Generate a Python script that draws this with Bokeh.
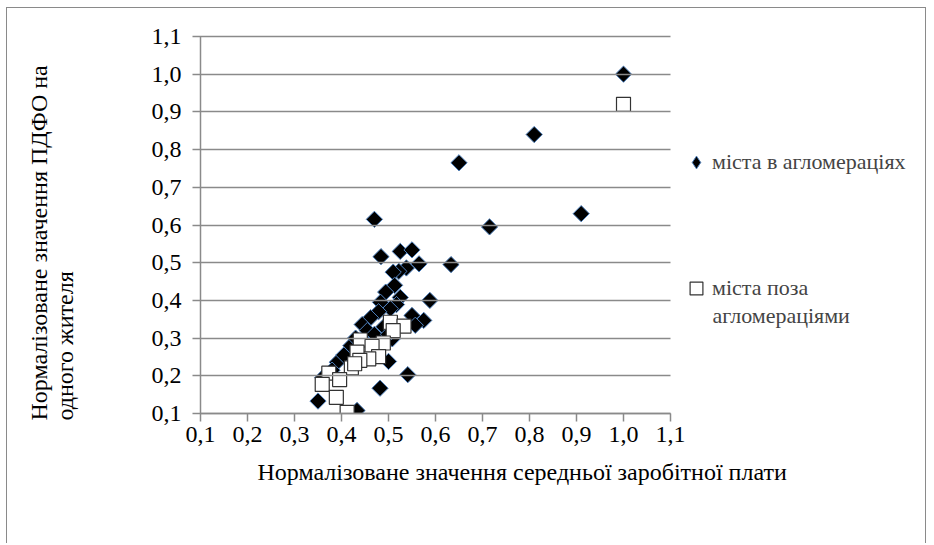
import math
from bokeh.plotting import figure
from bokeh.models import (FixedTicker, CustomJSTickFormatter, Legend,
                          LegendItem, Range1d, Title, Label)
from bokeh.embed import file_html
from bokeh.resources import INLINE

# ---- data -------------------------------------------------------------
agl_x = [1.0, 0.81, 0.65, 0.715, 0.91, 0.47, 0.633, 0.484, 0.525, 0.55,
         0.565, 0.538, 0.522, 0.51, 0.513, 0.494, 0.525, 0.588, 0.483, 0.517,
         0.504, 0.479, 0.462, 0.444, 0.55, 0.575, 0.557, 0.508, 0.5, 0.541,
         0.482, 0.433, 0.35, 0.391, 0.36, 0.38, 0.42, 0.43, 0.455, 0.47,
         0.49, 0.5, 0.405]
agl_y = [1.0, 0.84, 0.765, 0.595, 0.63, 0.615, 0.495, 0.516, 0.53, 0.534,
         0.497, 0.486, 0.477, 0.475, 0.44, 0.422, 0.408, 0.4, 0.395, 0.389,
         0.378, 0.37, 0.354, 0.336, 0.36, 0.347, 0.334, 0.298, 0.238, 0.203,
         0.167, 0.108, 0.133, 0.236, 0.195, 0.215, 0.28, 0.3, 0.32, 0.31,
         0.33, 0.31, 0.255]

out_x = [1.0, 0.504, 0.533, 0.51, 0.44, 0.489, 0.465, 0.479, 0.458, 0.433,
         0.439, 0.421, 0.373, 0.396, 0.359, 0.389, 0.412, 0.428]
out_y = [0.92, 0.342, 0.332, 0.32, 0.295, 0.287, 0.278, 0.251, 0.245, 0.263,
         0.241, 0.221, 0.207, 0.19, 0.177, 0.143, 0.103, 0.232]

x_ticks = [0.1, 0.2, 0.3, 0.4, 0.5, 0.6, 0.7, 0.8, 0.9, 1.0, 1.1]
y_ticks = [0.1, 0.2, 0.3, 0.4, 0.5, 0.6, 0.7, 0.8, 0.9, 1.0, 1.1]
x_min, x_max = 0.1, 1.1
y_min, y_max = 0.1, 1.1

x_title = "Нормалізоване значення середньої заробітної плати"
y_title = "Нормалізоване значення ПДФО на\nодного жителя"
series_names = ["міста в агломераціях", "міста поза", "агломераціями"]

# ---- layout / style ----------------------------------------------------
FONT = "Liberation Serif"
FS_AX = "24px"
FS_LEG = "22px"
GRID = "#8a8a8a"
PLOT_W = 470          # pixel width of the 0.1..1.1 plotting area
FRAME_W = 727         # frame extends right to host the legend
x_view_end = x_min + (x_max - x_min) * FRAME_W / PLOT_W

p = figure(width=920, height=536,
           min_border_left=193, min_border_right=0,
           min_border_top=28, min_border_bottom=131,
           x_range=Range1d(x_min, x_view_end), y_range=Range1d(y_min, y_max),
           output_backend="svg", toolbar_location=None)
p.styles = {"margin-left": "6px", "margin-top": "7px",
            "border-left": "1px solid #8a8a8a",
            "border-top": "1px solid #8a8a8a",
            "border-right": "1px solid #8a8a8a"}
p.outline_line_color = None
p.xgrid.visible = False
p.ygrid.visible = False

fmt = CustomJSTickFormatter(code="return tick.toFixed(1).replace('.', ',');")
for ax, ticks in ((p.xaxis[0], x_ticks), (p.yaxis[0], y_ticks)):
    ax.ticker = FixedTicker(ticks=ticks)
    ax.formatter = fmt
    ax.axis_line_color = GRID
    ax.axis_line_width = 1.5
    ax.major_tick_line_color = GRID
    ax.major_tick_line_width = 1.5
    ax.major_tick_out = 8
    ax.major_tick_in = 0
    ax.minor_tick_line_color = None
    ax.major_label_text_font = FONT
    ax.major_label_text_font_size = FS_AX
    ax.major_label_text_color = "black"
xa, ya = p.xaxis[0], p.yaxis[0]
xa.bounds = (x_min, x_max)
xa.major_label_standoff = 5
ya.major_label_standoff = 11
# horizontal gridlines: y-axis ticks drawn across the 0.1..1.1 area
ya.major_tick_in = PLOT_W

r1 = p.scatter(agl_x, agl_y, marker="square", angle=math.pi / 4, size=11.5,
               fill_color="black", line_color="#4f81bd", line_width=1)
r2 = p.scatter(out_x, out_y, marker="square", size=14,
               fill_color="white", line_color="#333333", line_width=1.2)
# hidden diamond renderer, used only for the legend symbol of series 1
r1_leg = p.scatter(agl_x, agl_y, marker="diamond", fill_color="black",
                   line_color="#4f81bd", line_width=1, visible=False)

# axis titles
p.add_layout(Title(text=x_title, align="left", offset=57, standoff=24,
                   text_font=FONT, text_font_size=FS_AX,
                   text_font_style="normal", text_color="black"), "below")
# spacer between the y tick labels and the y title
p.add_layout(Title(text=" ", text_font_size="1px", standoff=68), "left")
p.add_layout(Title(text=y_title, align="left", offset=-7, standoff=0,
                   text_font=FONT, text_font_size=FS_AX,
                   text_font_style="normal", text_color="black"), "left")

# legend
legend = Legend(items=[LegendItem(label=series_names[0], renderers=[r1_leg]),
                       LegendItem(label=series_names[1], renderers=[r2])],
                location=(480, 109), glyph_width=32, glyph_height=32,
                spacing=94, padding=0, margin=0, label_standoff=0,
                border_line_color=None, background_fill_alpha=0,
                inactive_fill_alpha=0,
                label_text_font=FONT, label_text_font_size=FS_LEG)
p.add_layout(legend)
p.add_layout(Label(x=512, y=98, x_units="screen", y_units="screen",
                   text=series_names[2], text_font=FONT,
                   text_font_size=FS_LEG,
                   text_align="left", text_baseline="middle"))

open("out.html", "w").write(file_html(p, INLINE))
